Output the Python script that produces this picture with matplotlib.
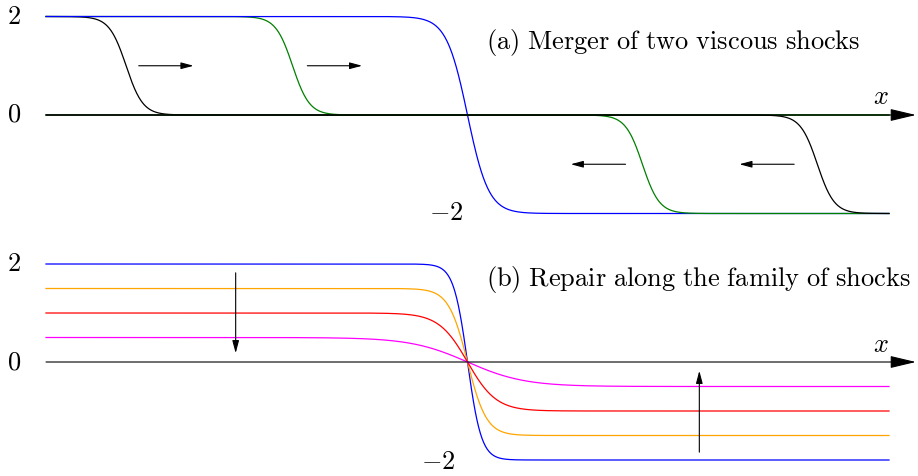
"""
Viscous shock profiles: merger (a) and repair along the family (b)
"""
import numpy as np
import matplotlib
matplotlib.use("Agg")
import matplotlib.pyplot as plt

plt.rcParams['mathtext.fontset'] = 'cm'

# panel (a): shocks as (left state, right state, centre, width, colour)
a_left = [2, 2, 2, 0, 0]
a_right = [0, 0, -2, -2, -2]
a_centre = [-8.1, -4.15, 0.0, 4.15, 8.3]
a_width = [0.4, 0.4, 0.5, 0.4, 0.4]
a_colors = ['black', 'green', 'blue', 'green', 'black']

# arrows in panel (a): (x start, x end, y)
a_arrows_x0 = [-7.8, -3.8, 3.75, 7.75]
a_arrows_x1 = [-6.5, -2.5, 2.45, 6.45]
a_arrows_y = [1, 1, -1, -1]

# panel (b): family of shocks u = a at -inf, -a at +inf
b_amp = [2.0, 1.5, 1.0, 0.5]
b_width = [0.33, 0.45, 0.68, 1.35]
b_colors = ['blue', 'orange', 'red', 'magenta']

b_arrows_x = [-5.5, 5.5]
b_arrows_y0 = [1.82, -1.84]
b_arrows_y1 = [0.18, -0.18]

W, H = 918, 476
px_per_x = (889 - 46) / 20.0
xlim = (-10 - 46 / px_per_x, 10 + (W - 889) / px_per_x)
FS = 19

fig = plt.figure(figsize=(W / 100, H / 100), dpi=100)

small_head = dict(arrowstyle='-|>,head_length=0.75,head_width=0.2',
                  color='black', lw=0.8, shrinkA=0, shrinkB=0, mutation_scale=10)

def make_axes(top_px, bot_px, zero_px, px_per_y):
    ax = fig.add_axes([0, 1 - bot_px / H, 1, (bot_px - top_px) / H])
    ax.set_xlim(*xlim)
    ax.set_ylim(-(bot_px - zero_px) / px_per_y, (zero_px - top_px) / px_per_y)
    ax.axis('off')
    # x axis with arrow head
    ax.annotate('', xy=(xlim[1] - 0.05, 0), xytext=(-10, 0),
                arrowprops=dict(arrowstyle='-|>,head_length=1.6,head_width=0.38',
                                color='black', lw=0.8, shrinkA=0, shrinkB=0,
                                mutation_scale=10))
    return ax

x = np.linspace(-10, 10, 2000)

# ---------- panel (a) ----------
ax1 = make_axes(0, 238, 115, 49.25)
for uL, uR, c, w, col in zip(a_left, a_right, a_centre, a_width, a_colors):
    u = 0.5 * (uL + uR) - 0.5 * (uL - uR) * np.tanh((x - c) / w)
    ax1.plot(x, u, color=col, lw=0.9)
for x0, x1, y in zip(a_arrows_x0, a_arrows_x1, a_arrows_y):
    ax1.annotate('', xy=(x1, y), xytext=(x0, y), arrowprops=small_head)
ax1.text(-10.75, 2, r'$2$', fontsize=FS, ha='center', va='center')
ax1.text(-10.75, 0, r'$0$', fontsize=FS, ha='center', va='center')
ax1.text(-0.5, -1.98, r'$-2$', fontsize=FS, ha='center', va='center')
ax1.text(9.8, 0.37, r'$x$', fontsize=FS, ha='center', va='center')
ax1.text(0.45, 1.48, r'$\mathrm{(a)\ Merger\ of\ two\ viscous\ shocks}$',
         fontsize=FS, ha='left', va='center')

# ---------- panel (b) ----------
ax2 = make_axes(238, 476, 362, 49.0)
for amp, w, col in zip(b_amp, b_width, b_colors):
    u = -amp * np.tanh(x / w)
    ax2.plot(x, u, color=col, lw=0.9)
for xa, y0, y1 in zip(b_arrows_x, b_arrows_y0, b_arrows_y1):
    ax2.annotate('', xy=(xa, y1), xytext=(xa, y0), arrowprops=small_head)
ax2.text(-10.75, 2, r'$2$', fontsize=FS, ha='center', va='center')
ax2.text(-10.75, 0, r'$0$', fontsize=FS, ha='center', va='center')
ax2.text(-0.7, -2.05, r'$-2$', fontsize=FS, ha='center', va='center')
ax2.text(9.8, 0.34, r'$x$', fontsize=FS, ha='center', va='center')
ax2.text(0.45, 1.68, r'$\mathrm{(b)\ Repair\ along\ the\ family\ of\ shocks}$',
         fontsize=FS, ha='left', va='center')

fig.savefig('out.png', dpi=100)
